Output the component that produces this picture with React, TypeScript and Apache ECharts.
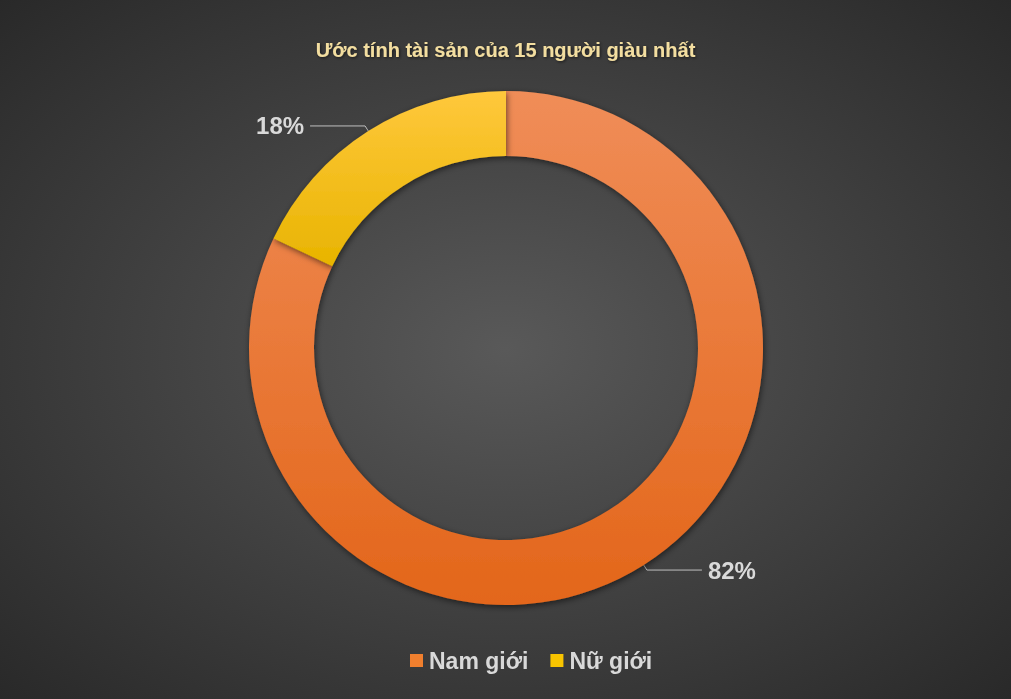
import React, { useEffect, useRef } from 'react';
import * as echarts from 'echarts';

const categories = ['Nam giới', 'Nữ giới'];
const shares = [82, 18];
const sliceColors = [
  ['#f08d58', '#e3661a'],
  ['#ffc83c', '#e8b400'],
];
const legendColors = ['#f07f2e', '#f8c400'];

const App: React.FC = () => {
  const chartRef = useRef<HTMLDivElement>(null);

  useEffect(() => {
    if (!chartRef.current) return;
    const chart = echarts.init(chartRef.current, null, { renderer: 'svg' });

    const option: echarts.EChartsOption = {
      animation: false,
      backgroundColor: {
        type: 'radial',
        x: 0.5,
        y: 0.5,
        r: 0.75,
        colorStops: [
          { offset: 0, color: '#595959' },
          { offset: 1, color: '#262626' },
        ],
      } as any,
      title: {
        text: 'Ước tính tài sản của 15 người giàu nhất',
        left: 'center',
        top: 35,
        textStyle: {
          fontFamily: 'Liberation Sans',
          fontSize: 20,
          fontWeight: 'bold',
          color: '#f3dea0',
          textShadowColor: 'rgba(0,0,0,0.6)',
          textShadowBlur: 3,
          textShadowOffsetX: 1,
          textShadowOffsetY: 1,
        },
      },
      legend: {
        bottom: 22,
        left: 405,
        icon: 'rect',
        itemWidth: 13,
        itemHeight: 13,
        itemGap: 22,
        data: categories.map((name, i) => ({
          name,
          itemStyle: { color: legendColors[i] },
        })),
        textStyle: {
          fontFamily: 'Liberation Sans',
          fontSize: 23,
          fontWeight: 'bold',
          color: '#d9d9d9',
          padding: [0, 0, 0, 1],
        },
      },
      series: [
        {
          type: 'pie',
          center: [506, 348],
          radius: [192, 257],
          startAngle: 90,
          clockwise: true,
          avoidLabelOverlap: false,
          itemStyle: {
            shadowColor: 'rgba(0,0,0,0.55)',
            shadowBlur: 6,
            shadowOffsetX: 1,
            shadowOffsetY: 2,
          },
          label: {
            show: true,
            position: 'outside',
            formatter: '{d}%',
            fontFamily: 'Liberation Sans',
            fontSize: 24,
            fontWeight: 'bold',
            color: '#d9d9d9',
            distanceToLabelLine: 6,
          },
          labelLine: {
            show: true,
            length: 6,
            length2: 55,
            lineStyle: { color: '#bfbfbf', width: 1 },
          },
          data: categories.map((name, i) => ({
            name,
            value: shares[i],
            itemStyle: {
              color: {
                type: 'linear',
                x: 0,
                y: 0,
                x2: 0,
                y2: 1,
                colorStops: [
                  { offset: 0, color: sliceColors[i][0] },
                  { offset: 1, color: sliceColors[i][1] },
                ],
              },
            },
          })),
        },
      ],
    };

    chart.setOption(option);
    return () => {
      chart.dispose();
    };
  }, []);

  return (
    <div
      ref={chartRef}
      style={{ position: 'fixed', left: 0, top: 0, width: 1011, height: 699 }}
    />
  );
};

export default App;
